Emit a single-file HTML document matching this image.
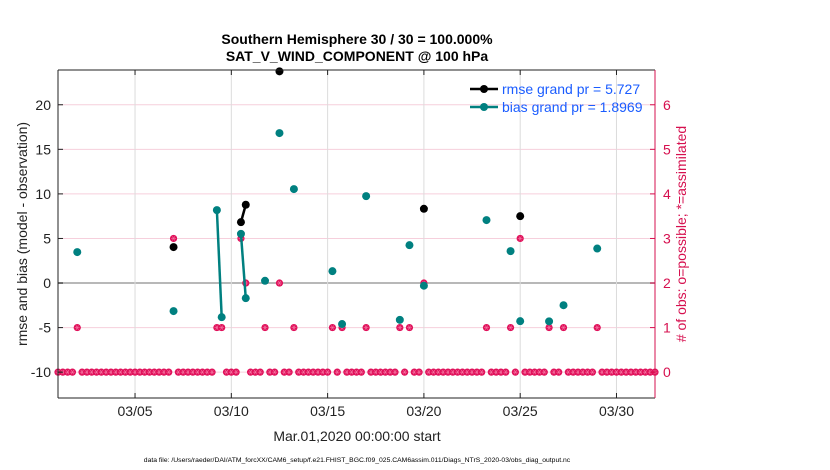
<!DOCTYPE html>
<html><head><meta charset="utf-8"><style>
html,body{margin:0;padding:0;background:#fff;}
svg{display:block;font-family:"Liberation Sans",sans-serif;}
</style></head><body>
<svg id="chart" width="830" height="470" viewBox="0 0 830 470" xmlns="http://www.w3.org/2000/svg">
<g id="grid"></g>
<g id="marks"></g>
<g id="axes"></g>
<text x="357" y="44" text-anchor="middle" font-size="14" font-weight="bold">Southern Hemisphere 30 / 30 = 100.000%</text>
<text x="357" y="61" text-anchor="middle" font-size="14" font-weight="bold">SAT_V_WIND_COMPONENT @ 100 hPa</text>
<text transform="translate(27,234) rotate(-90)" text-anchor="middle" font-size="14" fill="#222">rmse and bias (model - observation)</text>
<text transform="translate(686,234) rotate(-90)" text-anchor="middle" font-size="14" fill="#d6104f"># of obs: o=possible; *=assimilated</text>
<text x="357" y="441" text-anchor="middle" font-size="14" fill="#222">Mar.01,2020 00:00:00 start</text>
<text x="357" y="462" text-anchor="middle" font-size="6.8">data file: /Users/raeder/DAI/ATM_forcXX/CAM6_setup/f.e21.FHIST_BGC.f09_025.CAM6assim.011/Diags_NTrS_2020-03/obs_diag_output.nc</text>
<g>
<line x1="470" y1="89" x2="498" y2="89" stroke="#000" stroke-width="2.5"/>
<circle cx="484" cy="89" r="4" fill="#000"/>
<text x="502" y="94" font-size="14" fill="#1a5cff">rmse grand pr = 5.727</text>
<line x1="470" y1="107" x2="498" y2="107" stroke="#008080" stroke-width="2.5"/>
<circle cx="484" cy="107" r="4" fill="#008080"/>
<text x="502" y="112" font-size="14" fill="#1a5cff">bias grand pr = 1.8969</text>
</g>
</svg>
<script>
const nBins = 125;
const countIdx = [4,24,33,34,38,39,43,46,49,57,59,64,71,73,76,89,94,96,102,105,112];
const countVals = [1,3,1,1,3,2,1,2,1,1,1,1,1,1,2,1,1,3,1,1,1];
const biasVals = [3.47,-3.15,8.18,-3.83,5.52,-1.7,0.25,16.82,10.54,1.33,-4.6,9.75,-4.13,4.25,-0.3,7.06,3.58,-4.28,-4.3,-2.49,3.87];
const rmseVals = [null,4.03,null,null,6.83,8.78,null,23.75,null,null,null,null,null,null,8.33,null,null,7.5,null,null,null];
const xTickDays = [4,9,14,19,24,29];
const xTickLabels = ["03/05","03/10","03/15","03/20","03/25","03/30"];
const yTicks = [-10,-5,0,5,10,15,20];
const y2Ticks = [0,1,2,3,4,5,6];

const L=58,R=655,T=70,B=398;
const xMin=0,xMax=31,yMin=-12.9,yMax=23.9;
const X=d=>L+(d-xMin)/(xMax-xMin)*(R-L);
const Y=v=>B-(v-yMin)/(yMax-yMin)*(B-T);
const Yc=c=>Y(-10+5*c);
const NS="http://www.w3.org/2000/svg";
function mk(tag,attrs,parent){const e=document.createElementNS(NS,tag);for(const k in attrs)e.setAttribute(k,attrs[k]);parent.appendChild(e);return e;}
const grid=document.getElementById('grid'),marks=document.getElementById('marks'),axes=document.getElementById('axes');

yTicks.forEach(v=>{const l=mk('line',{x1:L,x2:R,y1:Y(v),y2:Y(v),stroke:v===0?'#b8b8b8':'#f6cfdc','stroke-width':v===0?2:1},grid);


const t=mk('text',{x:L-7,y:Y(v)+5,'text-anchor':'end','font-size':14,fill:'#222'},axes);t.textContent=v;


mk('line',{x1:L,x2:L+5,y1:Y(v),y2:Y(v),stroke:'#222'},axes);});
xTickDays.forEach((d,i)=>{const l=mk('line',{x1:X(d),x2:X(d),y1:T,y2:B,stroke:'#dcdcdc'},grid);


const t=mk('text',{x:X(d),y:416,'text-anchor':'middle','font-size':14,fill:'#222'},axes);t.textContent=xTickLabels[i];


mk('line',{x1:X(d),x2:X(d),y1:B,y2:B-5,stroke:'#222'},axes);mk('line',{x1:X(d),x2:X(d),y1:T,y2:T+5,stroke:'#222'},axes);});
y2Ticks.forEach(c=>{const t=mk('text',{x:R+8,y:Yc(c)+5,'font-size':14,fill:'#d6104f'},axes);t.textContent=c;


mk('line',{x1:R-5,x2:R,y1:Yc(c),y2:Yc(c),stroke:'#d6104f'},axes);});
mk('line',{x1:L,x2:L,y1:T,y2:B,stroke:'#222'},axes);
mk('line',{x1:L,x2:R,y1:B,y2:B,stroke:'#222'},axes);
mk('line',{x1:L,x2:R,y1:T,y2:T,stroke:'#222'},axes);
mk('line',{x1:R,x2:R,y1:T,y2:B,stroke:'#d6104f'},axes);

const counts=new Array(nBins).fill(0);
countIdx.forEach((k,i)=>counts[k]=countVals[i]);
function star(x,y){const g=mk('g',{},marks);


mk('circle',{cx:x,cy:y,r:3.6,fill:'#e0105a'},g);
[0,60,120].forEach(a=>{const r=a*Math.PI/180;mk('line',{x1:x-2.4*Math.cos(r),y1:y-2.4*Math.sin(r),x2:x+2.4*Math.cos(r),y2:y+2.4*Math.sin(r),stroke:'#f47aa5','stroke-width':0.6},g);});}
counts.forEach((c,k)=>star(X(k*0.25),Yc(c)));

function series(vals,color,name){
 const full=new Array(nBins).fill(null);countIdx.forEach((k,i)=>full[k]=vals[i]);
 for(let k=0;k<nBins-1;k++){if(full[k]!==null&&full[k+1]!==null){const l=mk('line',{x1:X(k*0.25),y1:Y(full[k]),x2:X((k+1)*0.25),y2:Y(full[k+1]),stroke:color,'stroke-width':2.5},marks);
 
 }}
 full.forEach((v,k)=>{if(v!==null){const c=mk('circle',{cx:X(k*0.25),cy:Y(v),r:4,fill:color},marks);
 
 }});
}
series(rmseVals,'#000','rmse');
series(biasVals,'#008080','bias');
</script>
</body></html>
